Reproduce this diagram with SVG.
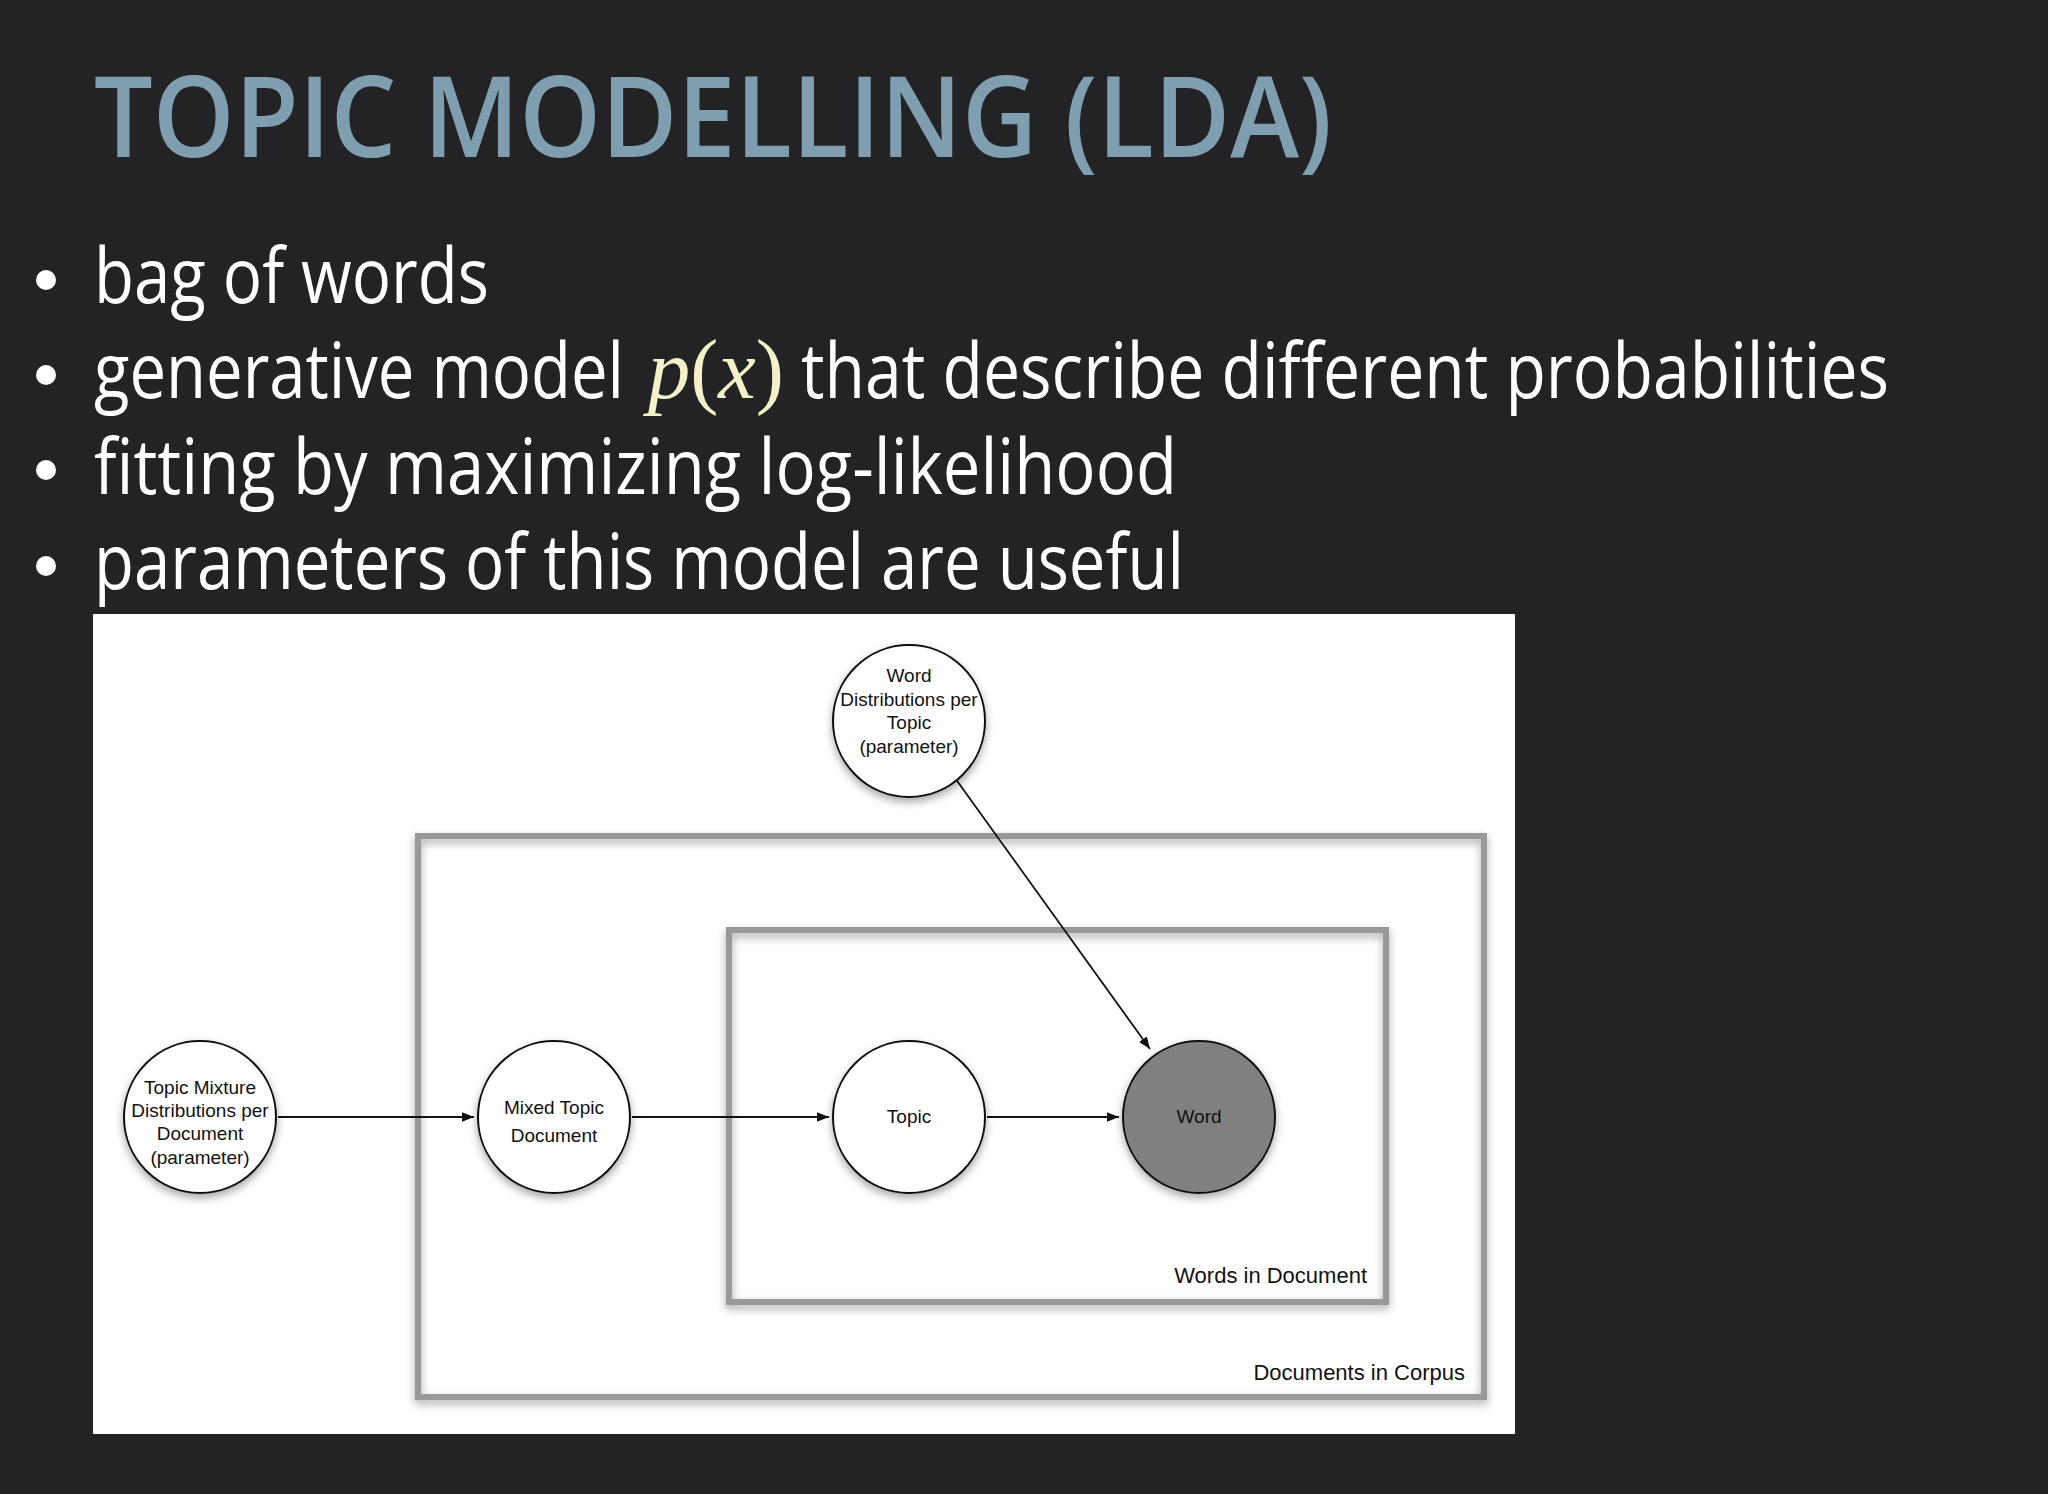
<svg xmlns="http://www.w3.org/2000/svg" width="2048" height="1494" viewBox="0 0 2048 1494">
<style>
.b{font-family:"Source Sans Pro","Open Sans","Noto Sans",sans-serif;font-size:76px;fill:#ffffff}
.m{font-family:"Liberation Serif",serif;font-size:84px;fill:#f3f1c8}
.n{fill:#fff;stroke:#111;stroke-width:2}
.t{font-family:"Liberation Sans",Arial,sans-serif;font-size:19px;fill:#111;text-anchor:middle}
.r{font-family:"Liberation Sans",Arial,sans-serif;font-size:22px;fill:#111;text-anchor:end}
.plate{fill:none;stroke:#999;stroke-width:6}
.e{stroke:#111;stroke-width:1.8;fill:none;marker-end:url(#a)}
</style>
<defs>
<marker id="a" viewBox="0 0 10 10" refX="10" refY="5" markerWidth="12" markerHeight="12" markerUnits="userSpaceOnUse" orient="auto"><path d="M0,1 L10,5 L0,9 z" fill="#111"/></marker>
<filter id="s" x="-20%" y="-20%" width="140%" height="150%"><feDropShadow dx="0" dy="4" stdDeviation="4" flood-opacity="0.35"/></filter>
</defs>
<rect width="2048" height="1494" fill="#232325"/>
<text x="94" y="157" font-family="'Source Sans Pro','Open Sans',sans-serif" font-weight="600" font-size="112" fill="#7f9fb1" textLength="1238" lengthAdjust="spacingAndGlyphs">TOPIC MODELLING (LDA)</text>
<g fill="#fff"><circle cx="46" cy="280" r="10"/><circle cx="46" cy="375" r="10"/><circle cx="46" cy="470" r="10"/><circle cx="46" cy="566" r="10"/></g>
<text class="b" x="94" y="303" textLength="395" lengthAdjust="spacingAndGlyphs">bag of words</text>
<text class="b" x="94" y="398" textLength="530" lengthAdjust="spacingAndGlyphs">generative model</text>
<text class="m" x="648" y="398" textLength="136" lengthAdjust="spacingAndGlyphs"><tspan font-style="italic">p</tspan>(<tspan font-style="italic">x</tspan>)</text>
<text class="b" x="801" y="398" textLength="1088" lengthAdjust="spacingAndGlyphs">that describe different probabilities</text>
<text class="b" x="94" y="494" textLength="1083" lengthAdjust="spacingAndGlyphs">fitting by maximizing log-likelihood</text>
<text class="b" x="94" y="589" textLength="1090" lengthAdjust="spacingAndGlyphs">parameters of this model are useful</text>
<rect x="93" y="614" width="1422" height="820" fill="#fff"/>
<g id="plates" filter="url(#s)">
<rect class="plate" x="418" y="836" width="1066" height="561"/>
<rect class="plate" x="729" y="930" width="657" height="372"/>
</g>
<text class="r" x="1367" y="1283">Words in Document</text>
<text class="r" x="1465" y="1380">Documents in Corpus</text>
<g id="connectors">
<line class="e" x1="278" y1="1117" x2="474" y2="1117"/>
<line class="e" x1="632" y1="1117" x2="829" y2="1117"/>
<line class="e" x1="987" y1="1117" x2="1119" y2="1117"/>
<line class="e" x1="955" y1="778" x2="1150" y2="1049"/>
</g>
<g id="wdist" filter="url(#s)"><circle class="n" cx="909" cy="721" r="76"/></g>
<text class="t" x="909" y="682">Word</text><text class="t" x="909" y="706">Distributions per</text><text class="t" x="909" y="729">Topic</text><text class="t" x="909" y="753">(parameter)</text>
<g id="tmix" filter="url(#s)"><circle class="n" cx="200" cy="1117" r="76"/></g>
<text class="t" x="200" y="1094">Topic Mixture</text><text class="t" x="200" y="1117">Distributions per</text><text class="t" x="200" y="1140">Document</text><text class="t" x="200" y="1164">(parameter)</text>
<g id="mixed" filter="url(#s)"><circle class="n" cx="554" cy="1117" r="76"/></g>
<text class="t" x="554" y="1114" font-size="24">Mixed Topic</text><text class="t" x="554" y="1142" font-size="24">Document</text>
<g id="topic" filter="url(#s)"><circle class="n" cx="909" cy="1117" r="76"/></g>
<text class="t" x="909" y="1123" font-size="24">Topic</text>
<g id="word" filter="url(#s)"><circle cx="1199" cy="1117" r="76" fill="#808080" stroke="#111" stroke-width="2"/></g>
<text class="t" x="1199" y="1123" font-size="24">Word</text>
</svg>
